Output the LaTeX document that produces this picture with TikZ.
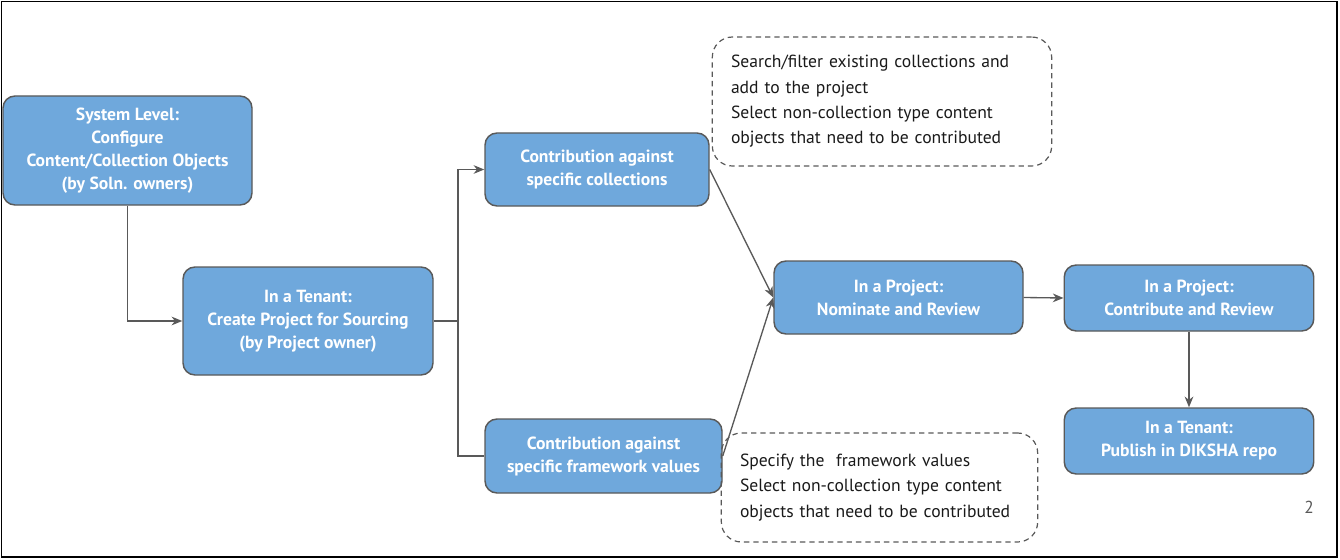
\documentclass[tikz,border=0pt]{standalone}
\usepackage{fontspec}
\setmainfont{PT Sans}
\usetikzlibrary{arrows.meta}
\definecolor{boxfill}{HTML}{6FA8DC}
\definecolor{boxline}{HTML}{595959}
\definecolor{notetext}{HTML}{1A1A1A}
\tikzset{
  flowbox/.style={draw=boxline, line width=1.1pt, fill=boxfill, rounded corners=9pt,
    text=white, align=center, inner sep=2pt,
    font=\fontsize{13.2}{17.25}\selectfont\bfseries},
  notebox/.style={draw=boxline, line width=0.9pt, dash pattern=on 4pt off 3pt, rounded corners=15pt,
    align=left, inner xsep=14pt, inner ysep=2pt, text=notetext,
    font=\fontsize{13.2}{19}\selectfont},
  conn/.style={draw=boxline, line width=1pt},
  arr/.style={conn, -{Stealth[length=8pt,width=6.5pt,inset=2.5pt]}}
}
\begin{document}
\begin{tikzpicture}[x=0.75pt,y=-0.75pt]
\useasboundingbox (0,0) rectangle (1340,560);
\draw[black, line width=1pt] (1.5,1.5) rectangle (1337,557);

\node[flowbox, minimum width=249*0.75pt, minimum height=109*0.75pt] (A) at (127.5,150.5)
  {System Level:\\Configure\\Content/Collection Objects\\(by Soln. owners)};
\node[flowbox, minimum width=250*0.75pt, minimum height=108*0.75pt] (B) at (308,321)
  {In a Tenant:\\Create Project for Sourcing\\(by Project owner)};
\node[flowbox, minimum width=224*0.75pt, minimum height=73*0.75pt] (C) at (597,169.5)
  {Contribution against\\specific collections};
\node[flowbox, minimum width=237*0.75pt, minimum height=74*0.75pt] (D) at (603.5,456)
  {Contribution against\\specific framework values};
\node[flowbox, minimum width=249*0.75pt, minimum height=73*0.75pt] (E) at (898.5,297.5)
  {In a Project:\\Nominate and Review};
\node[flowbox, minimum width=249.5*0.75pt, minimum height=66*0.75pt] (F) at (1189,298)
  {In a Project:\\Contribute and Review};
\node[flowbox, minimum width=249.5*0.75pt, minimum height=66*0.75pt] (G) at (1189,441)
  {In a Tenant:\\Publish in DIKSHA repo};

\node[notebox, text width=302*0.75pt, minimum height=129*0.75pt] (N1) at (882,101.5)
  {Search/filter existing collections and\\add to the project\\Select non-collection type content\\objects that need to be contributed};
\node[notebox, text width=279*0.75pt, minimum height=109*0.75pt] (N2) at (879.5,487.5)
  {Specify the\ \ framework values\\Select non-collection type content\\objects that need to be contributed};

\node[text=boxline, font=\fontsize{13}{15}\selectfont] (pg) at (1309,507) {2};

\coordinate (J) at (458,321);
\draw[arr] (A.south) |- (B.west);
\draw[conn] (B.east) -- (J);
\draw[arr] (J) |- (C.west);
\draw[conn] (J) |- (D.west);
\draw[arr] (C.east) -- (E.west);
\draw[arr] (D.east) -- (E.west);
\draw[arr] (E.east) -- (F.west);
\draw[arr] (F.south) -- (G.north);
\end{tikzpicture}
\end{document}
